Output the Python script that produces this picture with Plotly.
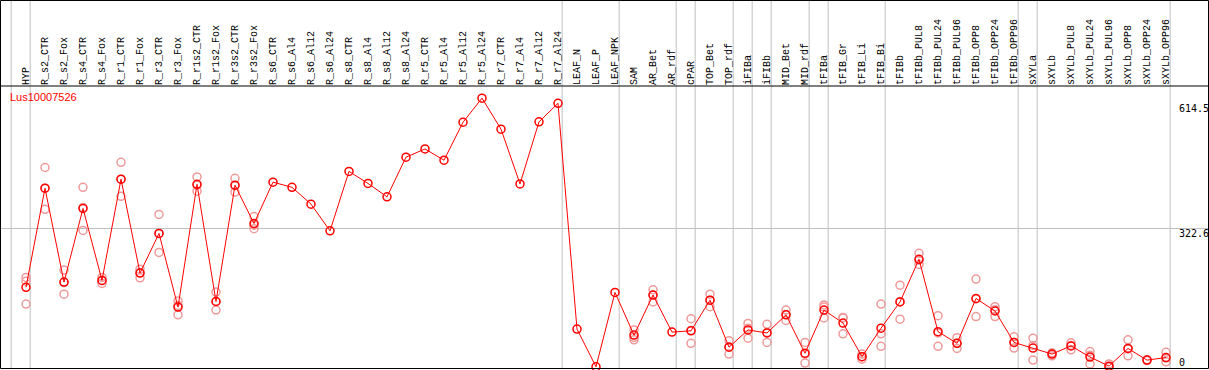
import plotly.graph_objects as go

categories = ["HYP", "R_s2_CTR", "R_s2_Fox", "R_s4_CTR", "R_s4_Fox", "R_r1_CTR", "R_r1_Fox",
              "R_r3_CTR", "R_r3_Fox", "R_r1s2_CTR", "R_r1s2_Fox", "R_r3s2_CTR", "R_r3s2_Fox",
              "R_s6_CTR", "R_s6_Al4", "R_s6_Al12", "R_s6_Al24", "R_s8_CTR", "R_s8_Al4",
              "R_s8_Al12", "R_s8_Al24", "R_r5_CTR", "R_r5_Al4", "R_r5_Al12", "R_r5_Al24",
              "R_r7_CTR", "R_r7_Al4", "R_r7_Al12", "R_r7_Al24", "LEAF_N", "LEAF_P", "LEAF_NPK",
              "SAM", "AR_Bet", "AR_rdf", "cPAR", "TOP_Bet", "TOP_rdf", "iFIBa", "iFIBb",
              "MID_Bet", "MID_rdf", "tFIBa", "tFIB_Gr", "tFIB_Li", "tFIB_Bi", "tFIBb",
              "tFIBb_PUL8", "tFIBb_PUL24", "tFIBb_PUL96", "tFIBb_OPP8", "tFIBb_OPP24",
              "tFIBb_OPP96", "sXYLa", "sXYLb", "sXYLb_PUL8", "sXYLb_PUL24", "sXYLb_PUL96",
              "sXYLb_OPP8", "sXYLb_OPP24", "sXYLb_OPP96"]

mean_values = [185, 415, 197, 368, 201, 436, 218, 310, 139, 424, 152, 422, 333,
               429, 417, 378, 316, 454, 426, 395, 487, 506, 480, 568, 624,
               552, 425, 569, 612, 88, 0.5, 173,
               74, 167, 81, 84, 155, 46, 86, 79,
               121, 32, 132, 102, 24, 90, 151,
               250, 82, 55, 159, 130, 57,
               44, 30, 49, 23, 2, 43, 16, 22]

N = None
rep_a = [208, 463, 225, 417, 208, 475, 227, 354, 153, 441, 174, 438, 349,
         N, N, N, N, N, N, N, N, N, N, N, N, N, N, N, N, N, N, N,
         86, 179, N, 112, 169, 61, 101, 99, 132, 57, 144, 115, 30, 146, 190,
         264, 119, 68, 204, 140, 70, 67, 26, 56, 36, 7, 63, 16, 34]
rep_b = [199, 366, 169, 317, 194, 396, 207, 266, 121, 408, 132, 406, 321,
         N, N, N, N, N, N, N, N, N, N, N, N, N, N, N, N, N, N, N,
         69, 151, N, 55, 140, 30, 67, 57, 108, 9, 114, 77, 18, 77, 111,
         238, 48, 43, 117, 117, 44, 16, 30, 40, 7, 1, 26, 15, 12]
rep_c = [146, 415, 196, 370, 201, 436, 219, 310, 143, 422, 152, 421, 329,
         N, N, N, N, N, N, N, N, N, N, N, N, N, N, N, N, N, N, N,
         63, 167, N, 85, 155, 47, 90, 80, 122, 30, 139, 114, 24, 48, 152,
         248, 79, 55, 158, 133, 57, 50, 33, 50, 27, 0, 42, 17, 21]

group_ends = [-1, 0, 28, 31, 34, 35, 37, 38, 39, 41, 42, 45, 52, 53, 60]
ytick_values = [614.5, 322.6, 0]
ytick_labels = ["614.5", "322.6", "0"]
gene_id = "Lus10007526"

W, H = 1209, 370
TOP = 86  # pixel top of plot area


def px_x(p):
    return p / W


def px_y(p):
    return (H - p) / (H - TOP)


fig = go.Figure()

x_idx = list(range(len(categories)))
for reps in (rep_a, rep_b, rep_c):
    fig.add_trace(go.Scatter(
        x=x_idx, y=reps, mode="markers",
        marker=dict(symbol="circle-open", size=8, color="#ee9a9a", line=dict(width=1.5, color="#ee9a9a")),
        showlegend=False, hoverinfo="skip"))

fig.add_trace(go.Scatter(
    x=x_idx, y=mean_values, mode="lines+markers",
    line=dict(color="#ff0000", width=1),
    marker=dict(symbol="circle-open", size=8, color="#ff0000", line=dict(width=1.5, color="#ff0000")),
    showlegend=False))

shapes = []
for g in group_ends:
    shapes.append(dict(type="line", xref="x", yref="paper", x0=g + 0.22, x1=g + 0.22,
                       y0=px_y(368), y1=px_y(0), line=dict(color="#c0c0c0", width=1), layer="below"))
# frame
shapes.append(dict(type="rect", xref="paper", yref="paper", x0=px_x(0.5), x1=px_x(1208.5),
                   y0=px_y(368.5), y1=px_y(0.5), line=dict(color="black", width=1)))
shapes.append(dict(type="line", xref="paper", yref="paper", x0=px_x(0), x1=px_x(1209),
                   y0=px_y(86), y1=px_y(86), line=dict(color="black", width=1)))

annotations = [dict(text=gene_id, xref="paper", yref="paper", x=px_x(8), y=px_y(97),
                    xanchor="left", yanchor="middle", showarrow=False,
                    font=dict(family="Liberation Sans", size=11, color="#ff0000"))]
shifts = [-6, -5, 5]
for v, t, s in zip(ytick_values, ytick_labels, shifts):
    annotations.append(dict(text=t, xref="paper", yref="y", x=px_x(1177), y=v, yshift=s,
                            xanchor="left", yanchor="middle", showarrow=False,
                            font=dict(family="DejaVu Sans Mono", size=10, color="black")))

k = 322.6 / 139.0
y_top = (367 - TOP) * k
y_bot = (367 - H) * k

fig.update_layout(
    width=W, height=H,
    margin=dict(l=0, r=0, t=TOP, b=0),
    plot_bgcolor="white", paper_bgcolor="white",
    xaxis=dict(tickmode="array", tickvals=x_idx, ticktext=categories, side="top",
               tickangle=-90, range=[-26 / 19, (W - 26) / 19], showgrid=False,
               zeroline=False, showline=False, ticks="", automargin=False,
               tickfont=dict(family="Liberation Mono", size=10, color="black")),
    yaxis=dict(range=[y_bot, y_top], tickmode="array", tickvals=[322.6], showticklabels=False,
               showgrid=True, gridcolor="#c0c0c0", gridwidth=1, zeroline=False,
               showline=False, ticks="", automargin=False),
    shapes=shapes, annotations=annotations,
)

fig.write_html("out.html", config={"displayModeBar": False},
               post_script="document.body.style.margin='0px';")
